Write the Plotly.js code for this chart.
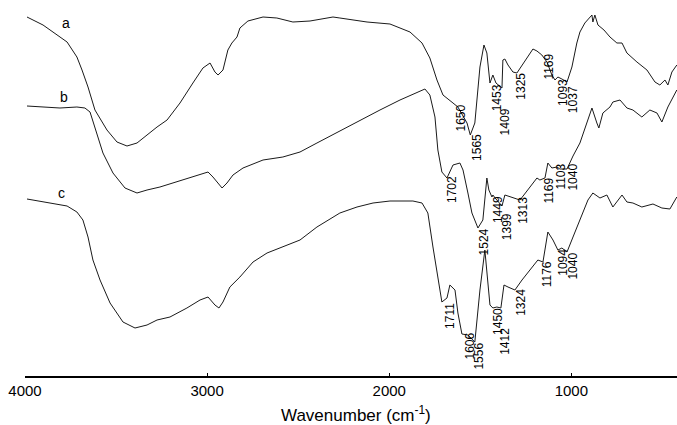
<!DOCTYPE html>
<html>
<head>
<meta charset="utf-8">
<script src="https://cdn.plot.ly/plotly-3.0.1.min.js"></script>
<style>html,body{margin:0;padding:0;background:#fff}#chart{width:677px;height:425px}</style>
</head>
<body>
<div id="chart"></div>
<script>
// Spectrum a
var waveA = [3989,3901,3769,3715,3687,3654,3616,3550,3495,3440,3385,3330,3275,3220,3149,3078,3023,2984,2957,2940,2913,2886,2864,2836,2820,2776,2693,2617,2529,2435,2309,2271,2122,1996,1886,1820,1777,1738,1705,1650,1623,1573,1555,1530,1502,1480,1464,1447,1431,1414,1392,1381,1376,1365,1348,1321,1299,1271,1244,1211,1189,1162,1134,1107,1090,1074,1052,1024,997,970,953,926,887,882,871,854,821,788,750,722,695,640,585,541,514,486,470,448,421];
var transA = [359,351,334,319,306,289,266,246,234,230,233,241,249,256,273,293,308,313,304,301,306,326,333,339,348,355,359,358,354,355,359,358,354,352,344,333,318,296,281,273,269,253,241,253,309,331,323,293,301,293,289,288,316,317,311,304,303,311,318,327,325,321,314,301,296,299,297,294,309,333,344,353,361,354,361,351,346,339,333,333,323,314,306,294,291,296,291,304,311];
// Spectrum b
var waveB = [3989,3901,3808,3715,3671,3643,3605,3572,3517,3451,3385,3330,3259,3187,3094,2995,2968,2918,2891,2858,2803,2693,2584,2490,2397,2271,2161,2051,1941,1848,1804,1777,1749,1733,1711,1683,1650,1612,1595,1568,1546,1513,1486,1464,1453,1436,1431,1414,1381,1365,1337,1299,1282,1228,1189,1173,1145,1129,1107,1079,1063,1024,991,953,915,887,860,849,827,788,772,733,695,662,613,569,530,503,470,421];
var transB = [270,269,268,269,268,264,243,223,203,188,183,186,189,193,198,204,199,188,193,201,208,216,219,224,233,245,256,266,276,284,287,281,259,226,204,198,211,213,206,183,163,148,156,198,186,179,181,177,170,181,179,177,176,189,198,196,198,213,208,209,207,207,220,233,253,268,253,248,263,269,274,276,268,266,259,266,263,254,269,286];
// Spectrum c
var waveC = [3989,3863,3769,3715,3682,3654,3627,3588,3533,3462,3396,3330,3275,3204,3111,3039,2995,2957,2935,2913,2875,2820,2748,2671,2584,2490,2397,2271,2177,2089,1996,1870,1820,1788,1760,1733,1711,1683,1667,1639,1623,1601,1568,1530,1502,1475,1458,1447,1431,1409,1387,1370,1348,1310,1271,1217,1184,1156,1129,1101,1074,1052,1024,991,953,909,882,843,805,772,722,695,662,613,552,503,459,421];
var transC = [177,173,170,164,156,139,116,96,73,54,48,51,56,59,68,76,79,71,68,74,89,99,114,123,129,136,149,163,169,173,175,175,173,163,129,96,74,78,91,86,63,42,41,34,86,126,96,71,68,69,68,91,89,86,96,108,116,114,144,136,126,128,124,139,156,176,183,178,181,169,181,174,173,169,172,168,167,179];

// Peak labels (wavenumbers) and the height of each label's top end
var peaksA = [1650,1565,1453,1409,1325,1169,1093,1037];
var labelTopA = [273,243,293,269,304,323,298,291];
var peaksB = [1702,1524,1449,1399,1313,1169,1103,1040];
var labelTopB = [201,149,181,164,180,199,213,213];
var peaksC = [1711,1606,1556,1450,1412,1324,1176,1094,1040];
var labelTopC = [74,44,34,69,49,88,116,128,124];

var curveNames = ['a','b','c'];
var nameX = [3775,3786,3802];
var nameY = [353,279,183];

var tickVals = [4000,3000,2000,1000];
var axisTitle = 'Wavenumber (cm<sup>-1</sup>)';

var lineStyle = {color:'#1a1a1a', width:1};
var traces = [
  {x:waveA, y:transA, mode:'lines', line:lineStyle, hoverinfo:'skip'},
  {x:waveB, y:transB, mode:'lines', line:lineStyle, hoverinfo:'skip'},
  {x:waveC, y:transC, mode:'lines', line:lineStyle, hoverinfo:'skip'}
];

var ann = [];
function addPeaks(peaks, tops){
  for (var i=0;i<peaks.length;i++){
    ann.push({x:peaks[i], y:tops[i], xref:'x', yref:'y', text:String(peaks[i]),
      showarrow:false, textangle:-90, xanchor:'center', yanchor:'top', xshift:8,
      borderpad:0, font:{family:'Liberation Sans, Arial, sans-serif', size:12, color:'#000'}});
  }
}
addPeaks(peaksA, labelTopA);
addPeaks(peaksB, labelTopB);
addPeaks(peaksC, labelTopC);
for (var j=0;j<curveNames.length;j++){
  ann.push({x:nameX[j], y:nameY[j], xref:'x', yref:'y', text:curveNames[j], showarrow:false,
    xanchor:'center', yanchor:'middle',
    font:{family:'Liberation Sans, Arial, sans-serif', size:14, color:'#000'}});
}
// axis title
ann.push({x:0.508, y:-0.101, xref:'paper', yref:'paper', text:axisTitle, showarrow:false,
  xanchor:'center', yanchor:'middle',
  font:{family:'Liberation Sans, Arial, sans-serif', size:17, color:'#000'}});

var layout = {
  width:677, height:425,
  margin:{l:25, r:0, t:0, b:49, pad:0},
  paper_bgcolor:'#fff', plot_bgcolor:'#fff',
  showlegend:false,
  font:{family:'Liberation Sans, Arial, sans-serif', color:'#000'},
  xaxis:{range:[4000,420], tickvals:tickVals, ticktext:tickVals.map(String),
    showline:true, linecolor:'#000', linewidth:2, ticks:'inside', ticklen:3, tickwidth:1, tickcolor:'#000',
    showgrid:false, zeroline:false, tickfont:{size:15, color:'#000'}},
  yaxis:{range:[0,376], visible:false, showgrid:false, zeroline:false},
  annotations:ann
};
Plotly.newPlot('chart', traces, layout, {displayModeBar:false, staticPlot:true});
</script>
</body>
</html>
